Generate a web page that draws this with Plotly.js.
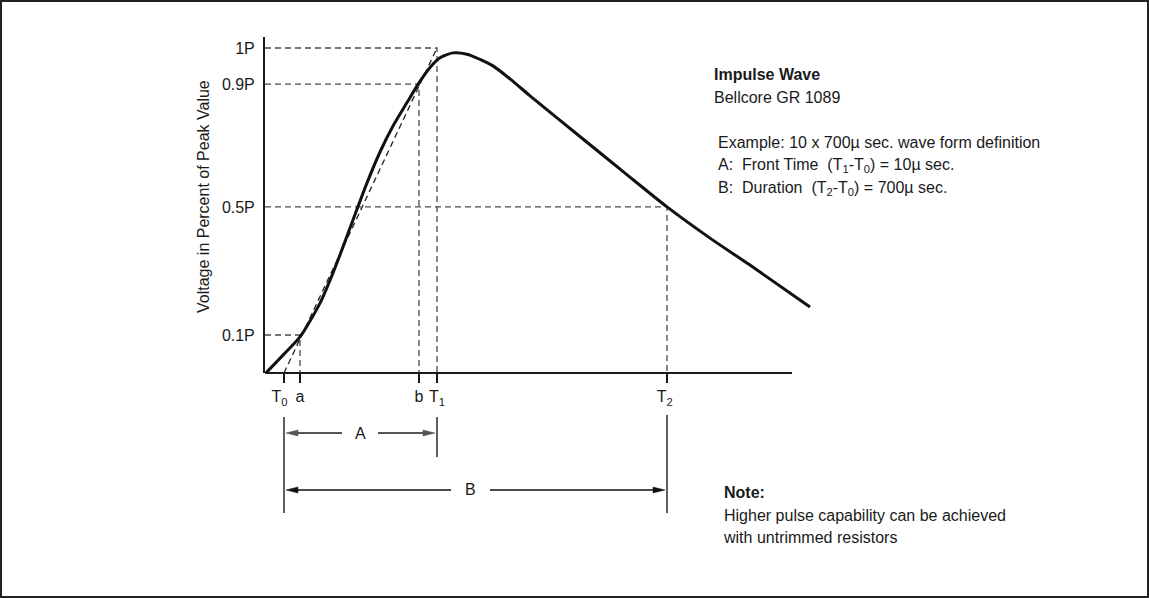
<!DOCTYPE html>
<html>
<head>
<meta charset="utf-8">
<script src="https://cdn.plot.ly/plotly-3.0.1.min.js"></script>
<style>
html,body{margin:0;padding:0;background:#fff;}
#chart{width:1149px;height:598px;}
</style>
</head>
<body>
<div id="chart"></div>
<script>
// ---------------- data (schematic units) ----------------
// time positions of the marked instants (schematic, arbitrary units)
const tickNames = ['T<sub>0</sub>&nbsp;&nbsp;', 'a', 'b', 'T<sub>1</sub>', 'T<sub>2</sub>&nbsp;'];
const tickTimes = [19, 35, 154, 172, 402];

// voltage levels (fraction of peak) where the reference lines sit
const levelNames = ['0.1P', '0.5P', '0.9P', '1P'];
const levelValues = [0.117, 0.511, 0.889, 1.0];

// reference (dashed) guide lines: time instant and level it meets
const guideTimes = [35, 154, 172, 402];
const guideLevels = [0.117, 0.889, 1.0, 0.511];

// front-time straight line from T0 (0) to T1 (1P)
const frontTimes = [19, 172];
const frontLevels = [0, 1.0];

// impulse waveform
const waveTime = [1, 18, 35, 55, 68, 78, 88, 102, 115, 128, 142, 153, 165, 175, 188, 202, 215, 228, 245, 265, 318, 360, 402, 445, 485, 545];
const waveLevel = [0.0, 0.055, 0.111, 0.215, 0.308, 0.388, 0.471, 0.585, 0.680, 0.760, 0.832, 0.888, 0.940, 0.970, 0.985, 0.981, 0.965, 0.945, 0.905, 0.853, 0.720, 0.615, 0.511, 0.415, 0.332, 0.203];

const axisEndTime = 527;

// ---------------- layout constants ----------------
const W = 1149, H = 598;
const M = {l: 265, r: 334, t: 37, b: 225};
const PW = W - M.l - M.r, PH = H - M.t - M.b;
const xRange = [0, 550];
const yRange = [0, PH / 325];
const FONT = 'Liberation Sans, Arial, Helvetica, sans-serif';
const INK = '#1a1a1a';

const kx = PW / (xRange[1] - xRange[0]);          // px per x unit
const pxX = px => (px - M.l) / PW;                // page px -> paper x
const pxY = py => (H - M.b - py) / PH;            // page px -> paper y
const dx = px => px / kx;                         // px length -> x units

// ---------------- traces ----------------
const traces = [];
guideTimes.forEach((t, i) => {
  traces.push({
    x: [0, t, t], y: [guideLevels[i], guideLevels[i], 0],
    mode: 'lines', line: {color: '#4a4a4a', width: 1.3, dash: '6px,4px'},
    hoverinfo: 'skip', showlegend: false
  });
});
traces.push({
  x: frontTimes, y: frontLevels, mode: 'lines',
  line: {color: '#222', width: 1.3, dash: '6px,4px'}, hoverinfo: 'skip', showlegend: false
});
traces.push({
  x: waveTime, y: waveLevel, mode: 'lines',
  line: {color: '#111', width: 3, shape: 'spline', smoothing: 0.7},
  hoverinfo: 'skip', showlegend: false
});

// ---------------- shapes ----------------
const T0 = tickTimes[0], T1 = tickTimes[3], T2 = tickTimes[4];
const shapes = [];
// outer frame
shapes.push({type: 'rect', xref: 'paper', yref: 'paper', x0: pxX(1), x1: pxX(1148), y0: pxY(1), y1: pxY(597),
  line: {color: '#222', width: 2}});
// x axis line
shapes.push({type: 'line', xref: 'x', yref: 'paper', x0: 0, x1: axisEndTime, y0: 0, y1: 0,
  line: {color: INK, width: 2}});
// extension lines under the axis
function vline(t, y0, y1, w) {
  shapes.push({type: 'line', xref: 'x', yref: 'paper', x0: t, x1: t, y0: pxY(y0), y1: pxY(y1),
    line: {color: INK, width: w}});
}
vline(T0, 417, 513, 1.4);
vline(T1, 417, 457, 1.4);
vline(T2, 415, 513, 1.4);

// dimension arrows
function hseg(a, b, py, color, w) {
  shapes.push({type: 'line', xref: 'x', yref: 'paper', x0: a, x1: b, y0: pxY(py), y1: pxY(py),
    line: {color: color, width: w}});
}
function head(tip, py, dir, color) { // dir -1 = points left, +1 = points right
  const L = dx(12), hw = 3;
  const base = tip - dir * L;
  const p = `M ${tip},${pxY(py)} L ${base},${pxY(py - hw)} L ${base},${pxY(py + hw)} Z`;
  shapes.push({type: 'path', xref: 'x', yref: 'paper', path: p, fillcolor: color, line: {color: color, width: 0.5}});
}
const annotations = [];
function dim(from, to, py, gapL, gapR, label, color, w) {
  const tipL = from + dx(2), tipR = to - dx(2);
  hseg(tipL + dx(8), from + dx(gapL), py, color, w);
  hseg(from + dx(gapR), tipR - dx(8), py, color, w);
  head(tipL, py, -1, color);
  head(tipR, py, 1, color);
  annotations.push({xref: 'x', yref: 'paper', x: from + dx((gapL + gapR) / 2), y: pxY(py), text: label,
    showarrow: false, xanchor: 'center', yanchor: 'middle', font: {family: FONT, size: 16, color: INK}});
}
dim(T0, T1, 433, 58, 94, 'A', '#555', 2);
dim(T0, T2, 490, 167, 206, 'B', '#111', 1.3);

// ---------------- text blocks ----------------
const textLines = [
  ['<b>Impulse Wave</b>', 713, 74],
  ['Bellcore GR 1089', 713, 97],
  ['Example: 10 x 700µ sec. wave form definition', 717, 142],
  ['A:&nbsp; Front Time&nbsp; (T<sub>1</sub>-T<sub>0</sub>) = 10µ sec.', 717, 165],
  ['B:&nbsp; Duration&nbsp; (T<sub>2</sub>-T<sub>0</sub>) = 700µ sec.', 717, 188],
  ['<b>Note:</b>', 723, 492],
  ['Higher pulse capability can be achieved', 723, 515],
  ['with untrimmed resistors', 722, 537]
];
textLines.forEach(([t, x, y]) => {
  annotations.push({xref: 'paper', yref: 'paper', x: pxX(x), y: pxY(y), text: t, showarrow: false,
    xanchor: 'left', yanchor: 'middle', borderpad: 0, font: {family: FONT, size: 16, color: INK}});
});
// y axis title
annotations.push({xref: 'paper', yref: 'paper', x: pxX(203), y: pxY(197), text: 'Voltage in Percent of Peak Value',
  textangle: -90, showarrow: false, xanchor: 'center', yanchor: 'middle', font: {family: FONT, size: 16, color: INK}});

const layout = {
  width: W, height: H,
  margin: M,
  paper_bgcolor: '#fff', plot_bgcolor: '#fff',
  font: {family: FONT, size: 16, color: INK},
  showlegend: false,
  xaxis: {
    range: xRange, showgrid: false, zeroline: false, showline: false,
    ticks: 'outside', ticklen: 9, tickwidth: 1.4, tickcolor: INK, tickangle: 0,
    tickmode: 'array', tickvals: tickTimes, ticktext: tickNames,
    tickfont: {family: FONT, size: 16, color: INK}, fixedrange: true
  },
  yaxis: {
    range: yRange, showgrid: false, zeroline: false, showline: true, linecolor: INK, linewidth: 2,
    ticks: '', tickmode: 'array', tickvals: levelValues, ticktext: levelNames,
    ticklabelstandoff: 5,
    tickfont: {family: FONT, size: 16, color: INK},
    fixedrange: true
  },
  shapes: shapes,
  annotations: annotations
};

Plotly.newPlot('chart', traces, layout, {staticPlot: true, displayModeBar: false});
</script>
</body>
</html>
